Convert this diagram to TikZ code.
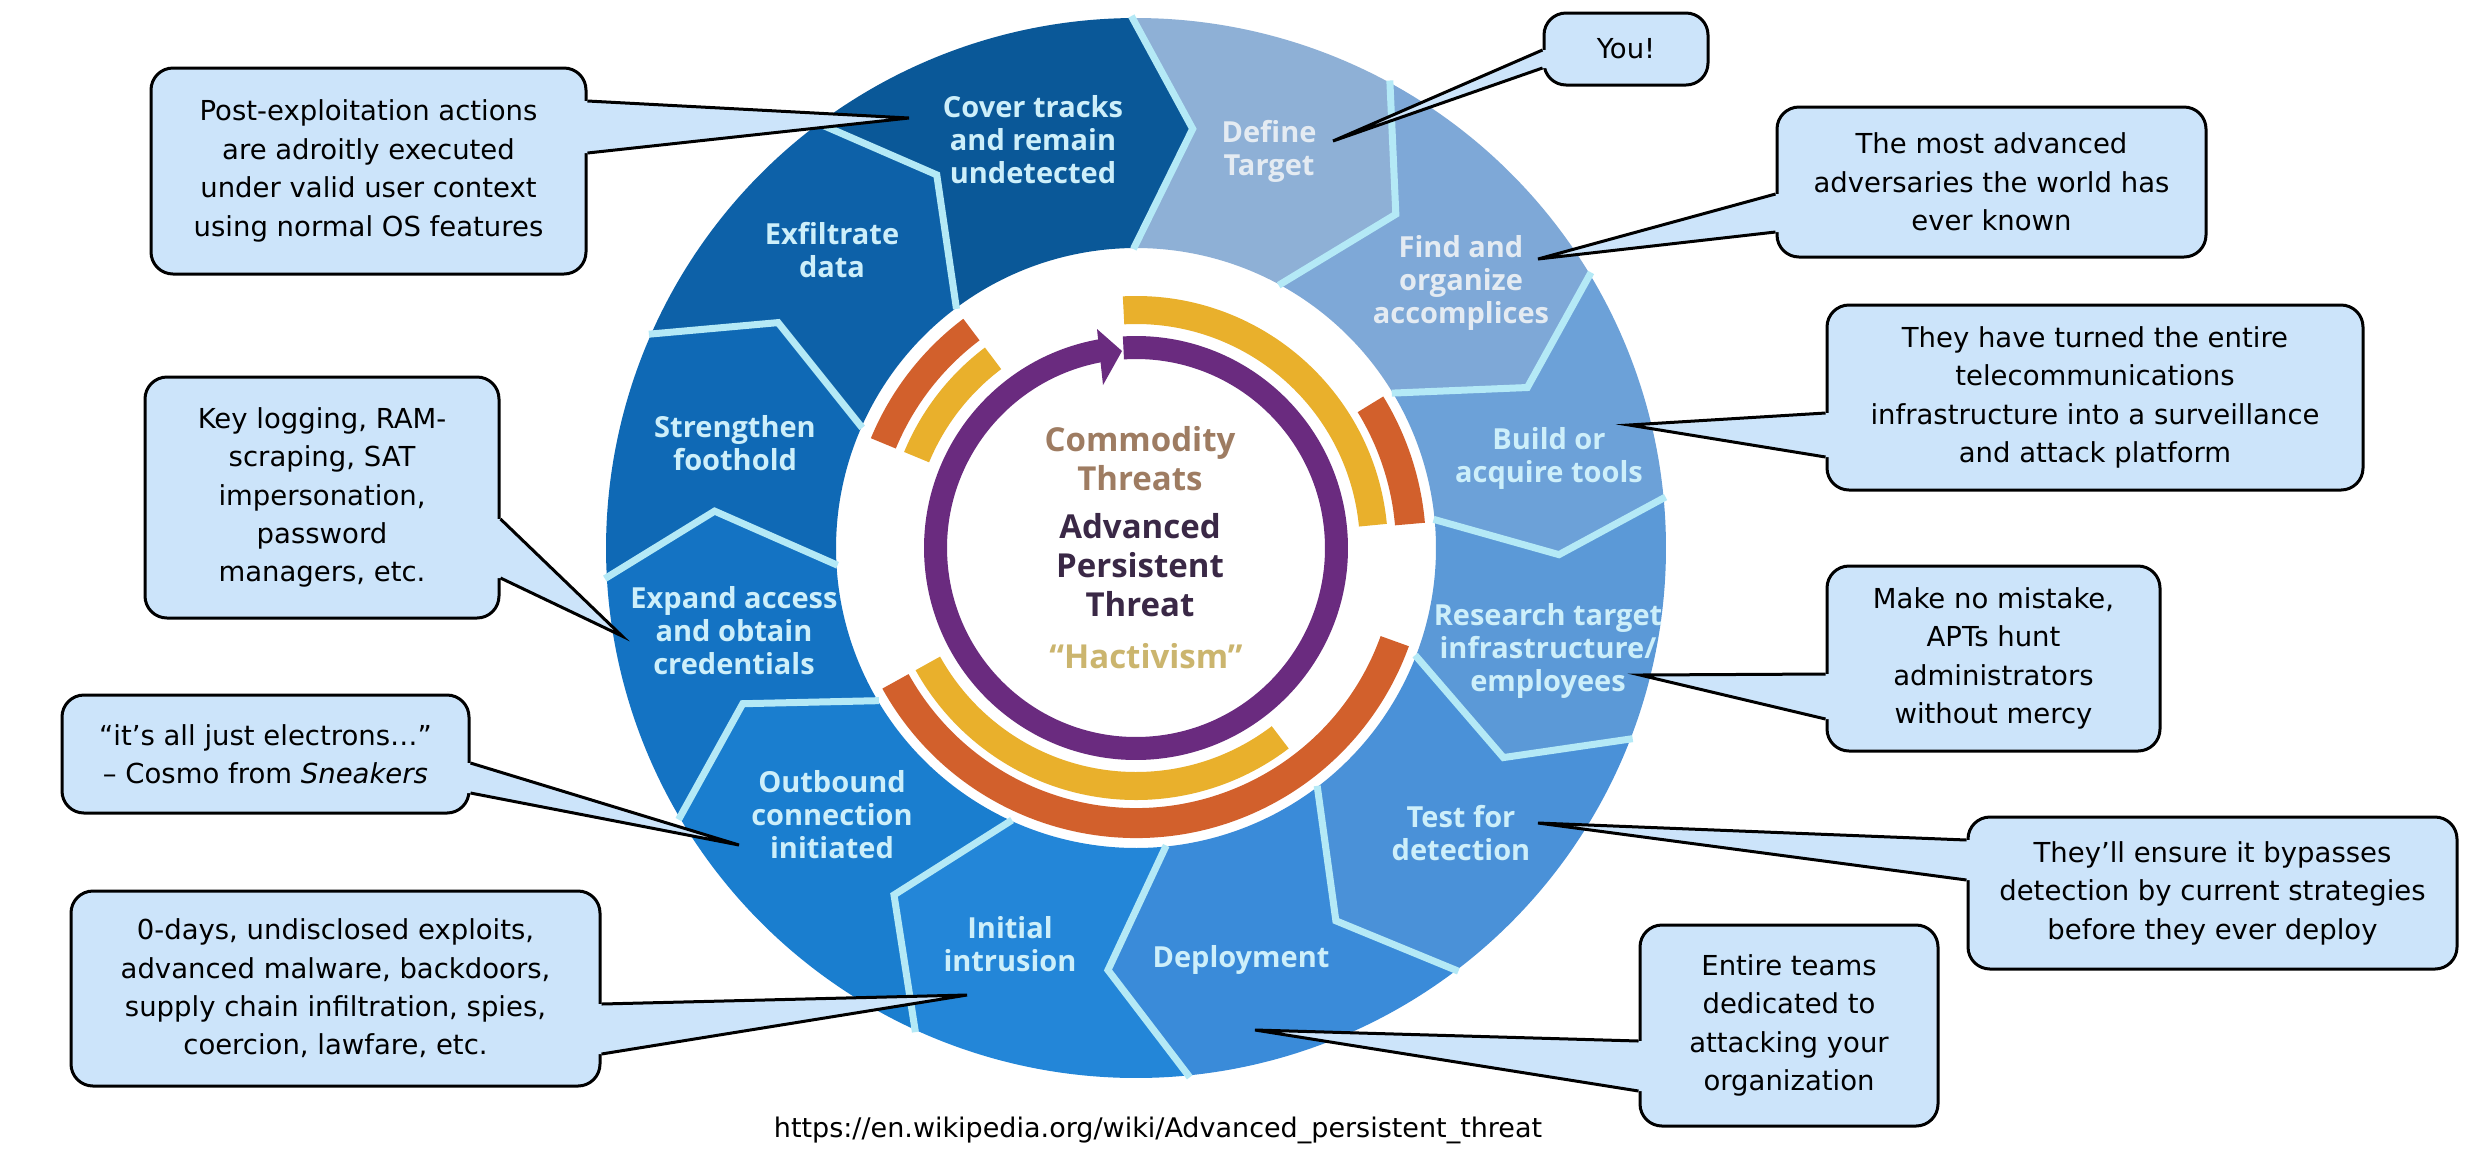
\documentclass[tikz,border=0pt]{standalone}
\usepackage{fontspec}
\setmainfont{DejaVu Sans}
\newfontfamily\wheelfont{Open Sans}
\usetikzlibrary{calc}
\definecolor{cfill}{HTML}{CCE4FA}
\definecolor{bline}{HTML}{B4E9F6}
\definecolor{sDefine}{HTML}{8EB0D6}
\definecolor{sFind}{HTML}{7EA8D7}
\definecolor{sBuild}{HTML}{6CA1D8}
\definecolor{sResearch}{HTML}{5B99D7}
\definecolor{sTest}{HTML}{4A91D8}
\definecolor{sDeploy}{HTML}{3A8BD9}
\definecolor{sInitial}{HTML}{2386D8}
\definecolor{sOutbound}{HTML}{1A7ECF}
\definecolor{sExpand}{HTML}{1473C3}
\definecolor{sStrength}{HTML}{0F69B5}
\definecolor{sExfil}{HTML}{0D61A8}
\definecolor{sCover}{HTML}{0A5898}
\definecolor{wtxt}{HTML}{CDEFFA}
\definecolor{wtxtA}{HTML}{E4EBF2}
\definecolor{goldc}{HTML}{E9B02C}
\definecolor{orngc}{HTML}{D2602C}
\definecolor{purpc}{HTML}{6A2B7F}
\definecolor{ctan}{HTML}{9E7C62}
\definecolor{cdark}{HTML}{3A2846}
\definecolor{chact}{HTML}{CBB56E}

\newcommand{\wseg}[5]{\fill[#1] (#2:530) arc[start angle=#2, end angle=#4, radius=530] -- (#5:423) -- (#4:300) arc[start angle=#4, end angle=#2, radius=300] -- (#3:423) -- cycle;}
\newcommand{\wband}[5]{\fill[#1] (#4:#3) arc[start angle=#4, end angle=#5, radius=#3] -- (#5:#2) arc[start angle=#5, end angle=#4, radius=#2] -- cycle;}
\newcommand{\wedgeR}[4]{%
  \coordinate (#1-a) at (#1.east |- 0,#2);
  \coordinate (#1-b) at (#1.east |- 0,#3);
  \fill[cfill] ($(#1-a)+(-7,0)$) -- (#1-a) -- (#4) -- (#1-b) -- ($(#1-b)+(-7,0)$) -- cycle;
  \draw[cline] (#1-a) -- (#4) -- (#1-b);}
\newcommand{\wedgeL}[4]{%
  \coordinate (#1-a) at (#1.west |- 0,#2);
  \coordinate (#1-b) at (#1.west |- 0,#3);
  \fill[cfill] ($(#1-a)+(7,0)$) -- (#1-a) -- (#4) -- (#1-b) -- ($(#1-b)+(7,0)$) -- cycle;
  \draw[cline] (#1-a) -- (#4) -- (#1-b);}

\begin{document}
\begin{tikzpicture}[x=0.5pt,y=-0.5pt,
  callout/.style={draw=black, line width=1.5pt, fill=cfill, rounded corners=11pt,
    align=center, inner sep=0pt, text=black, font=\fontsize{13.75}{19.2}\selectfont},
  cline/.style={draw=black, line width=1.5pt, line join=miter},
  wtext/.style={font=\wheelfont\bfseries\fontsize{14.5}{16.5}\selectfont, text=wtxt, align=center, inner sep=0pt},
  ctext/.style={font=\wheelfont\bfseries\fontsize{16.5}{19.5}\selectfont, align=center, inner sep=0pt},
  bl/.style={draw=bline, line width=3.5pt, line join=miter}]
\useasboundingbox (0,0) rectangle (2489,1153);
\fill[white] (0,0) rectangle (2489,1153);

% ---------- wheel ----------
\begin{scope}[shift={(1136,548)}, yscale=-1]
  \wseg{sDefine}{90.5}{82.3}{61.5}{52.1}
  \wseg{sFind}{61.5}{52.1}{31.2}{22.3}
  \wseg{sBuild}{31.2}{22.3}{5.5}{-0.9}
  \wseg{sResearch}{5.5}{-0.9}{-21}{-29.7}
  \wseg{sTest}{-21}{-29.7}{-52.7}{-61.8}
  \wseg{sDeploy}{-52.7}{-61.8}{-84.2}{-93.8}
  \wseg{sInitial}{-84.2}{-93.8}{-114.5}{-124.9}
  \wseg{sOutbound}{-114.5}{-124.9}{-149.3}{-158.4}
  \wseg{sExpand}{-149.3}{-158.4}{-176.7}{-185}
  \wseg{sStrength}{-176.7}{-185}{-203.7}{-212.2}
  \wseg{sExfil}{-203.7}{-212.2}{-233.1}{-241.9}
  \wseg{sCover}{-233.1}{-241.9}{-269.5}{-277.7}
  \foreach \t/\k in {90.5/82.3, 61.5/52.1, 31.2/22.3, 5.5/-0.9, -21/-29.7, -52.7/-61.8,
                     -84.2/-93.8, -114.5/-124.9, -149.3/-158.4, -176.7/-185, -203.7/-212.2, -233.1/-241.9}
    \draw[bl] (\t:532) -- (\k:423) -- (\t:299);
  % bands
  \wband{goldc}{224}{252}{93}{5.5}
  \wband{orngc}{260}{290}{31.5}{5}
  \wband{goldc}{224}{251}{157.5}{127}
  \wband{orngc}{260}{287}{157.5}{127}
  \wband{goldc}{224}{252}{209}{307.3}
  \wband{orngc}{260}{290}{209}{340.2}
  % purple circular arrow
  \draw[purpc, line width=11.5pt] (93.6:200.5) arc[start angle=93.6, end angle=-260, radius=200.5];
  \fill[purpc] (-39,219) -- (-14,197) -- (-33,163) -- cycle;
\end{scope}

% ---------- centre text ----------
\node[ctext, text=ctan] (ccom) at (1140,458.5) {Commodity\\Threats};
\node[ctext, text=cdark] (capt) at (1140,565.5) {Advanced\\Persistent\\Threat};
\node[ctext, text=chact] (chac) at (1146,656) {“Hactivism”};

% ---------- step labels ----------
\node[wtext, text=wtxtA] (tDefine) at (1269,151.5) {Define\\Target};
\node[wtext, text=wtxtA] (tFind) at (1461,283) {Find and\\organize\\accomplices};
\node[wtext] (tBuild) at (1549,458.5) {Build or\\acquire tools};
\node[wtext] (tResearch) at (1548,651) {Research target\\infrastructure/\\employees};
\node[wtext] (tTest) at (1461,833) {Test for\\detection};
\node[wtext] (tDeploy) at (1241,960) {Deployment};
\node[wtext] (tInitial) at (1010,944) {Initial\\intrusion};
\node[wtext] (tOutbound) at (832,814.5) {Outbound\\connection\\initiated};
\node[wtext] (tExpand) at (734,630.5) {Expand access\\and obtain\\credentials};
\node[wtext] (tStrength) at (735,443) {Strengthen\\foothold};
\node[wtext] (tExfil) at (832,250) {Exfiltrate\\data};
\node[wtext] (tCover) at (1033,139.5) {Cover tracks\\and remain\\undetected};

% ---------- callout tips ----------
\coordinate (tpost) at (909,118);
\coordinate (tkey) at (622,636);
\coordinate (tits) at (739,845);
\coordinate (tzero) at (967,995);
\coordinate (tyou) at (1333,141);
\coordinate (tmost) at (1538,259);
\coordinate (tturn) at (1629,425);
\coordinate (tmake) at (1640,675);
\coordinate (tensure) at (1538,823);
\coordinate (tteams) at (1255,1030);

% ---------- callouts ----------
\node[callout, minimum width=217.5pt, minimum height=103pt] (post) at (368.5,171)
  {Post-exploitation actions\\are adroitly executed\\under valid user context\\using normal OS features};
\wedgeR{post}{101}{153}{tpost}

\node[callout, minimum width=177pt, minimum height=120.5pt] (key) at (322,497.5)
  {Key logging, RAM-\\scraping, SAT\\impersonation,\\password\\managers, etc.};
\wedgeR{key}{519}{578}{tkey}

\node[callout, minimum width=203.5pt, minimum height=59pt] (its) at (265.5,754)
  {“it’s all just electrons…”\\– Cosmo from \textit{Sneakers}};
\wedgeR{its}{763}{793}{tits}

\node[callout, minimum width=264.5pt, minimum height=97.5pt] (zero) at (335.5,988.5)
  {0-days, undisclosed exploits,\\advanced malware, backdoors,\\supply chain infiltration, spies,\\coercion, lawfare, etc.};
\wedgeR{zero}{1004}{1054}{tzero}

\node[callout, minimum width=82pt, minimum height=36pt] (you) at (1626,49) {You!};
\wedgeL{you}{50}{68}{tyou}

\node[callout, minimum width=214.5pt, minimum height=75pt] (most) at (1991.5,182)
  {The most advanced\\adversaries the world has\\ever known};
\wedgeL{most}{194}{232}{tmost}

\node[callout, minimum width=268pt, minimum height=92.5pt] (turn) at (2095,397.5)
  {They have turned the entire\\telecommunications\\infrastructure into a surveillance\\and attack platform};
\wedgeL{turn}{413}{457}{tturn}

\node[callout, minimum width=166.5pt, minimum height=92.5pt] (make) at (1993.5,658.5)
  {Make no mistake,\\APTs hunt\\administrators\\without mercy};
\wedgeL{make}{674}{719}{tmake}

\node[callout, minimum width=244.5pt, minimum height=76pt] (ensure) at (2212.5,893)
  {They’ll ensure it bypasses\\detection by current strategies\\before they ever deploy};
\wedgeL{ensure}{840}{880}{tensure}

\node[callout, minimum width=149pt, minimum height=100.5pt] (teams) at (1789,1025.5)
  {Entire teams\\dedicated to\\attacking your\\organization};
\wedgeL{teams}{1041}{1091}{tteams}

% ---------- source ----------
\node[inner sep=0pt, font=\fontsize{13.5}{16}\selectfont] (url) at (1158,1130)
  {https://en.wikipedia.org/wiki/Advanced\_persistent\_threat};
\end{tikzpicture}
\end{document}
